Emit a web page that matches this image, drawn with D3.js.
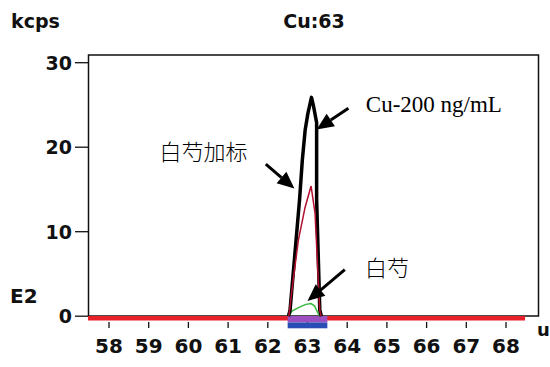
<!DOCTYPE html>
<html lang="en">
<head>
    <meta charset="utf-8">
    <style>
        body {
            margin: 0;
            padding: 0;
            background: #fff;
        }
        svg { display: block; }
        .lab {
            font-family: "DejaVu Sans", sans-serif;
            font-weight: bold;
            fill: #111;
        }
    </style>
</head>
<body>

<script src="https://cdn.jsdelivr.net/npm/d3@7/dist/d3.min.js"></script>
<script>
// tick labels
var massTicks = [58, 59, 60, 61, 62, 63, 64, 65, 66, 67, 68];
var kcpsTicks = [0, 10, 20, 30];

// Cu-200 ng/mL standard (black)
var stdMass = [62.52, 62.56, 62.80, 62.87, 62.94, 63.01, 63.10, 63.15, 63.23, 63.23, 63.31, 63.35];
var stdKcps = [0.0, 0.7, 13.8, 18.5, 22.0, 24.0, 25.9, 24.9, 22.9, 13.8, 0.7, 0.0];

// 白芍加标 spiked sample (red)
var spikeMass = [62.53, 62.64, 62.77, 62.94, 63.09, 63.19, 63.25, 63.31, 63.34];
var spikeKcps = [0.0, 4.3, 9.0, 12.9, 15.4, 12.2, 6.3, 0.7, 0.0];

// 白芍 sample (green)
var sampleMass = [62.53, 62.61, 62.81, 62.96, 63.09, 63.18, 63.26, 63.32];
var sampleKcps = [0.0, 0.6, 1.1, 1.4, 1.5, 1.2, 0.4, 0.0];

// scanned range and integration window
var scanRange = [57.47, 68.48];
var windowRange = [62.5, 63.5];

(function() {
    var width = 550, height = 367;

    var svg = d3.select('body').append('svg')
        .attr('width', width)
        .attr('height', height);

    var x = d3.scaleLinear().domain([58, 68]).range([109, 506]);
    var y = d3.scaleLinear().domain([0, 30]).range([316.2, 62.7]);

    var left = 88.5, right = 538.5, top = 55, bottom = 316;

    // plot frame
    svg.append('rect')
        .attr('x', left).attr('y', top)
        .attr('width', right - left).attr('height', bottom - top)
        .attr('fill', '#fff')
        .attr('stroke', '#111')
        .attr('stroke-width', 1.5);

    // y axis ticks
    var yAxis = svg.append('g');
    yAxis.selectAll('line').data(kcpsTicks).enter().append('line')
        .attr('x1', 75).attr('x2', left)
        .attr('y1', function (d) { return y(d); })
        .attr('y2', function (d) { return y(d); })
        .attr('stroke', '#111').attr('stroke-width', 1.3);
    yAxis.selectAll('text').data(kcpsTicks).enter().append('text')
        .attr('class', 'lab')
        .attr('x', 72)
        .attr('y', function (d) { return y(d); })
        .attr('dy', '0.36em')
        .attr('text-anchor', 'end')
        .style('font-size', '19px')
        .text(function (d) { return d; });

    // x axis ticks
    var xAxis = svg.append('g');
    xAxis.selectAll('line').data(massTicks).enter().append('line')
        .attr('x1', function (d) { return x(d); })
        .attr('x2', function (d) { return x(d); })
        .attr('y1', 322).attr('y2', 328)
        .attr('stroke', '#111').attr('stroke-width', 1.3);
    xAxis.selectAll('text').data(massTicks).enter().append('text')
        .attr('class', 'lab')
        .attr('x', function (d) { return x(d); })
        .attr('y', 353)
        .attr('text-anchor', 'middle')
        .style('font-size', '20px')
        .text(function (d) { return d; });

    // scan baseline
    svg.append('line')
        .attr('x1', x(scanRange[0])).attr('x2', x(scanRange[1]))
        .attr('y1', y(0) + 2).attr('y2', y(0) + 2)
        .attr('stroke', '#e8202a')
        .attr('stroke-width', 4.5);

    // integration window
    svg.append('rect')
        .attr('x', x(windowRange[0])).attr('width', x(windowRange[1]) - x(windowRange[0]))
        .attr('y', 316).attr('height', 6.5)
        .attr('fill', '#9b4fc0');
    svg.append('rect')
        .attr('x', x(windowRange[0])).attr('width', x(windowRange[1]) - x(windowRange[0]))
        .attr('y', 322.5).attr('height', 5.8)
        .attr('fill', '#2a4db5');

    var line = d3.line()
        .x(function (d) { return x(d[0]); })
        .y(function (d) { return y(d[1]); });

    svg.append('path')
        .attr('d', line(d3.zip(sampleMass, sampleKcps)))
        .attr('fill', 'none').attr('stroke', '#35b83a').attr('stroke-width', 1.5);
    svg.append('path')
        .attr('d', line(d3.zip(stdMass, stdKcps)))
        .attr('fill', 'none').attr('stroke', '#000').attr('stroke-width', 3.5)
        .attr('stroke-linejoin', 'round');
    svg.append('path')
        .attr('d', line(d3.zip(spikeMass, spikeKcps)))
        .attr('fill', 'none').attr('stroke', '#b3102e').attr('stroke-width', 1.5);

    // annotations: [tail mass, tail kcps, tip mass, tip kcps]
    var arrows = [
        [64.03, 24.6, 63.23, 22.1],
        [61.95, 18.0, 62.67, 15.1],
        [63.94, 5.5, 63.0, 1.8]
    ];
    arrows.forEach(function (a) {
        var x0 = x(a[0]), y0 = y(a[1]), x1 = x(a[2]), y1 = y(a[3]);
        var ang = Math.atan2(y1 - y0, x1 - x0);
        var hl = 17, hw = 7.5;
        var bx = x1 - hl * Math.cos(ang), by = y1 - hl * Math.sin(ang);
        svg.append('line')
            .attr('x1', x0).attr('y1', y0).attr('x2', bx).attr('y2', by)
            .attr('stroke', '#000').attr('stroke-width', 3);
        svg.append('polygon')
            .attr('points', [
                [x1, y1],
                [bx + hw * Math.sin(ang), by - hw * Math.cos(ang)],
                [bx - hw * Math.sin(ang), by + hw * Math.cos(ang)]
            ].join(' '))
            .attr('fill', '#000');
    });

    svg.append('text')
        .attr('x', x(64.47)).attr('y', y(24.2))
        .style('font-family', '"Liberation Serif", serif')
        .style('font-size', '23px')
        .text('Cu-200 ng/mL');
    svg.append('text')
        .attr('x', x(59.27)).attr('y', y(18.5))
        .style('font-family', '"Noto Sans CJK SC", sans-serif')
        .style('font-size', '22px')
        .style('font-weight', 300)
        .text('白芍加标');
    svg.append('text')
        .attr('x', x(64.45)).attr('y', y(4.8))
        .style('font-family', '"Noto Sans CJK SC", sans-serif')
        .style('font-size', '22px')
        .style('font-weight', 300)
        .text('白芍');

    // titles
    svg.append('text').attr('class', 'lab')
        .attr('x', 11).attr('y', 28)
        .style('font-size', '19px')
        .text('kcps');
    svg.append('text').attr('class', 'lab')
        .attr('x', 314).attr('y', 28)
        .attr('text-anchor', 'middle')
        .style('font-size', '19px')
        .text('Cu:63');
    svg.append('text').attr('class', 'lab')
        .attr('x', 10).attr('y', 303)
        .style('font-size', '20px')
        .text('E2');
    svg.append('text').attr('class', 'lab')
        .attr('x', 537).attr('y', 336)
        .style('font-size', '18px')
        .text('u');
})();
</script>

</body>
</html>
